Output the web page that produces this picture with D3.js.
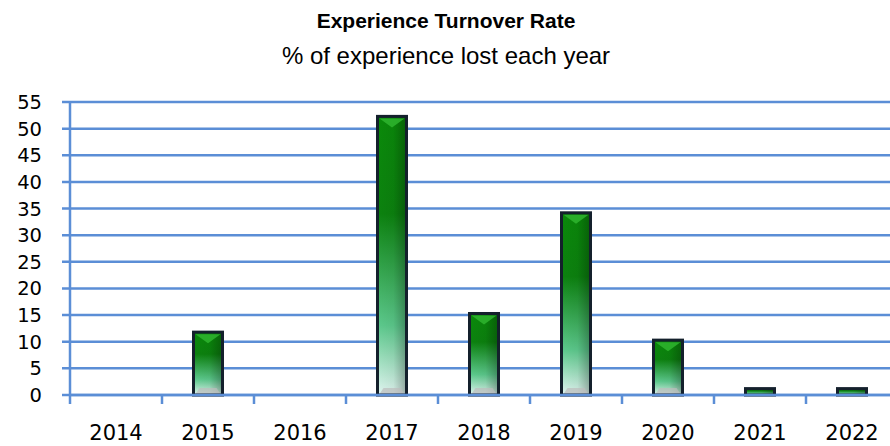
<!DOCTYPE html>
<html>
<head>
<meta charset="utf-8">
<script src="https://cdn.jsdelivr.net/npm/d3@7"></script>
<style>
  body { margin: 0; background: #fff; }
  svg { display: block; }
</style>
</head>
<body>
<script>
const years = ["2014", "2015", "2016", "2017", "2018", "2019", "2020", "2021", "2022"];
const turnover = [0, 11.8, 0, 52.3, 15.3, 34.2, 10.3, 1.2, 1.2];
const yTicks = [0, 5, 10, 15, 20, 25, 30, 35, 40, 45, 50, 55];

const width = 890, height = 446;
const plotLeft = 70, plotTop = 102, plotBottom = 395, plotRight = 898;
const gridColor = "#5b8ed6";

const svg = d3.select("body").append("svg")
    .attr("width", width)
    .attr("height", height);

const defs = svg.append("defs");
const vGrad = defs.append("linearGradient")
    .attr("id", "barFill")
    .attr("x1", 0).attr("y1", 0).attr("x2", 0).attr("y2", 1);
vGrad.append("stop").attr("offset", "0%").attr("stop-color", "#0a8a0a");
vGrad.append("stop").attr("offset", "35%").attr("stop-color", "#0c820f");
vGrad.append("stop").attr("offset", "75%").attr("stop-color", "#5cc98c");
vGrad.append("stop").attr("offset", "100%").attr("stop-color", "#e2f6f2");

const hGrad = defs.append("linearGradient")
    .attr("id", "barShade")
    .attr("x1", 0).attr("y1", 0).attr("x2", 1).attr("y2", 0);
hGrad.append("stop").attr("offset", "0%").attr("stop-color", "#000").attr("stop-opacity", 0.0);
hGrad.append("stop").attr("offset", "55%").attr("stop-color", "#000").attr("stop-opacity", 0.05);
hGrad.append("stop").attr("offset", "100%").attr("stop-color", "#000").attr("stop-opacity", 0.3);

const x = d3.scaleBand()
    .domain(years)
    .range([plotLeft, plotRight]);

const y = d3.scaleLinear()
    .domain([0, 55])
    .range([plotBottom, plotTop]);

// Title
svg.append("text")
    .attr("x", 446).attr("y", 28)
    .attr("text-anchor", "middle")
    .attr("font-family", "Liberation Sans, Arial, sans-serif")
    .attr("font-weight", "bold")
    .attr("font-size", 21)
    .text("Experience Turnover Rate");

svg.append("text")
    .attr("x", 446).attr("y", 64)
    .attr("text-anchor", "middle")
    .attr("font-family", "Liberation Sans, Arial, sans-serif")
    .attr("font-size", 24)
    .text("% of experience lost each year");

// Gridlines
svg.append("g")
    .selectAll("line")
    .data(yTicks)
    .join("line")
    .attr("x1", plotLeft - 8)
    .attr("x2", plotRight)
    .attr("y1", d => y(d))
    .attr("y2", d => y(d))
    .attr("stroke", gridColor)
    .attr("stroke-width", 2.5);

// Y axis line
svg.append("line")
    .attr("x1", plotLeft).attr("x2", plotLeft)
    .attr("y1", y(55)).attr("y2", plotBottom + 9)
    .attr("stroke", gridColor)
    .attr("stroke-width", 2.5);

// X ticks at category boundaries
svg.append("g")
    .selectAll("line")
    .data(years.slice(1))
    .join("line")
    .attr("x1", d => x(d))
    .attr("x2", d => x(d))
    .attr("y1", plotBottom)
    .attr("y2", plotBottom + 9)
    .attr("stroke", gridColor)
    .attr("stroke-width", 2.5);

// Y labels
svg.append("g")
    .selectAll("text")
    .data(yTicks)
    .join("text")
    .attr("x", 42)
    .attr("y", d => y(d))
    .attr("dy", "0.36em")
    .attr("text-anchor", "end")
    .attr("font-family", "DejaVu Sans, sans-serif")
    .attr("font-size", 19.5)
    .text(d => d);

// X labels
svg.append("g")
    .selectAll("text")
    .data(years)
    .join("text")
    .attr("x", d => x(d) + x.bandwidth() / 2)
    .attr("y", 440)
    .attr("text-anchor", "middle")
    .attr("font-family", "DejaVu Sans, sans-serif")
    .attr("font-size", 21)
    .text(d => d);

// Bars
const barW = 29;
const bars = svg.append("g")
    .selectAll("g")
    .data(years.map((yr, i) => ({ yr, v: turnover[i] })).filter(d => d.v > 0))
    .join("g")
    .attr("transform", d => `translate(${x(d.yr) + x.bandwidth() / 2 - barW / 2},0)`);

bars.append("rect")
    .attr("x", 0)
    .attr("y", d => y(d.v))
    .attr("width", barW)
    .attr("height", d => plotBottom - y(d.v))
    .attr("fill", "url(#barFill)");

bars.append("rect")
    .attr("x", 0)
    .attr("y", d => y(d.v))
    .attr("width", barW)
    .attr("height", d => plotBottom - y(d.v))
    .attr("fill", "url(#barShade)");

// bevel: top triangle
bars.filter(d => plotBottom - y(d.v) > 16)
    .append("path")
    .attr("d", d => {
        const t = y(d.v) + 2;
        return `M2,${t} L${barW - 2},${t} L${barW / 2},${t + 9} Z`;
    })
    .attr("fill", "#2fb52f")
    .attr("opacity", 0.85);

// bevel: bottom
bars.filter(d => plotBottom - y(d.v) > 16)
    .append("path")
    .attr("d", `M2,${plotBottom - 1} L${barW - 2},${plotBottom - 1} L${barW - 6},${plotBottom - 7} L6,${plotBottom - 7} Z`)
    .attr("fill", "#bcbcbc")
    .attr("opacity", 0.7);

bars.append("rect")
    .attr("x", 0)
    .attr("y", d => y(d.v))
    .attr("width", barW)
    .attr("height", d => plotBottom - y(d.v))
    .attr("fill", "none")
    .attr("stroke", "#14202c")
    .attr("stroke-width", 3);

// redraw the zero line over the bars' bottom edge
svg.append("line")
    .attr("x1", plotLeft).attr("x2", plotRight)
    .attr("y1", plotBottom).attr("y2", plotBottom)
    .attr("stroke", gridColor)
    .attr("stroke-width", 2.5);
</script>
</body>
</html>
